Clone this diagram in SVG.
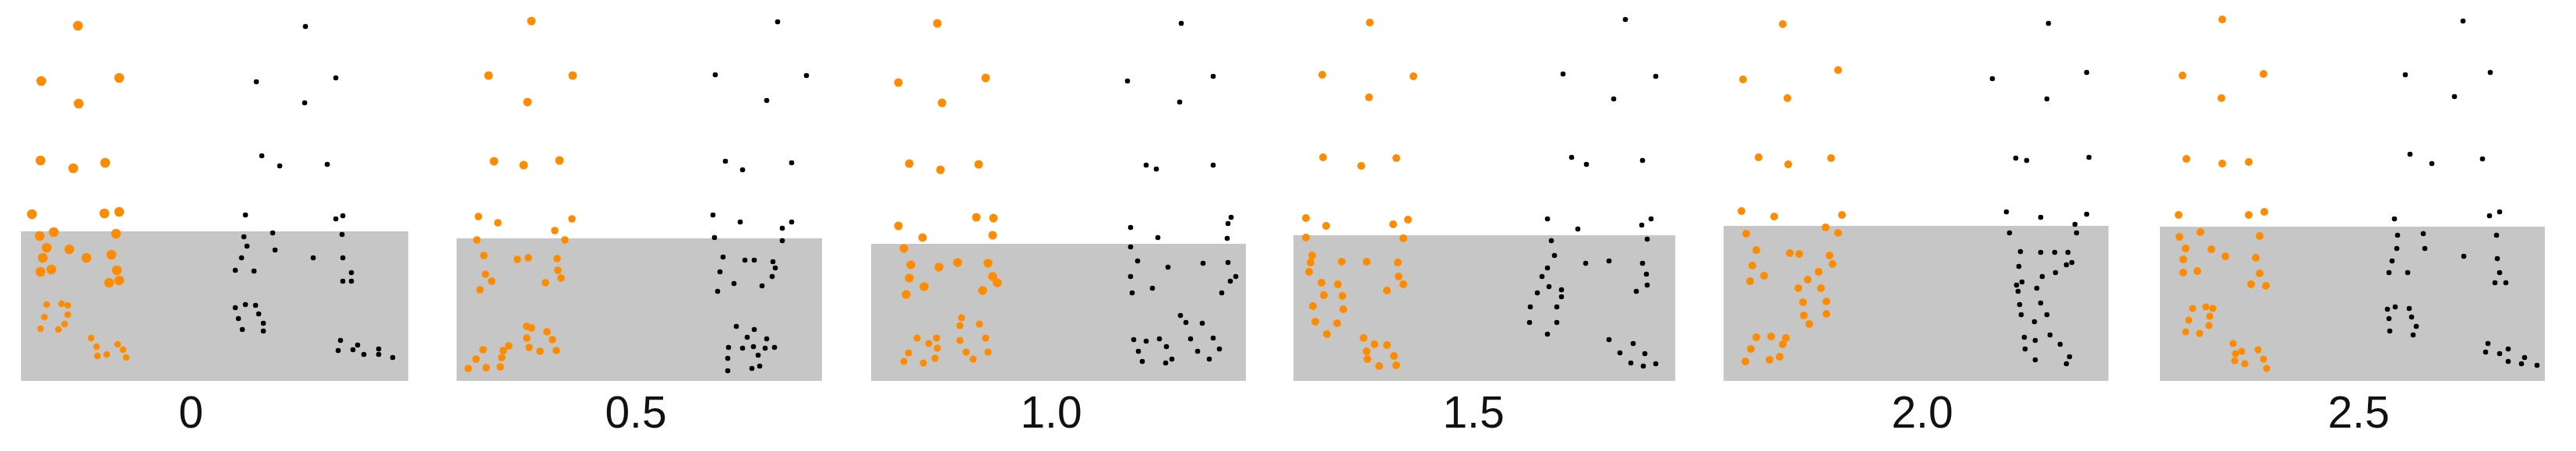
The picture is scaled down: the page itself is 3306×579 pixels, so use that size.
<svg xmlns="http://www.w3.org/2000/svg" width="3306" height="579" viewBox="0 0 3306 579">
<style>
.bg{fill:#c6c6c6}
.o{fill:#ff8c00}
.k{fill:#000}
.lbl{font-family:"Liberation Sans",Arial,sans-serif;font-size:57px;text-anchor:middle;fill:#111}
</style>
<rect x="0" y="0" width="3306" height="579" fill="#fff"/>
<g id="panel-0">
<rect class="bg" x="27" y="297" width="497" height="192"/>
<g class="o">
<circle cx="100" cy="33" r="6.3"/><circle cx="53" cy="104" r="6.3"/><circle cx="153" cy="100" r="6.3"/><circle cx="101" cy="133" r="6.3"/>
<circle cx="52" cy="206" r="6.3"/><circle cx="94" cy="216" r="6.3"/><circle cx="135" cy="209" r="6.3"/>
<circle cx="41" cy="275" r="6.3"/><circle cx="134" cy="274" r="6.3"/><circle cx="153" cy="272" r="6.3"/>
<circle cx="51" cy="303" r="6.3"/><circle cx="69" cy="298" r="6.3"/><circle cx="149" cy="300" r="6.3"/>
<circle cx="60" cy="318" r="6.3"/><circle cx="89" cy="320" r="6.3"/><circle cx="55" cy="331" r="6.3"/><circle cx="111" cy="331" r="6.3"/><circle cx="143" cy="327" r="6.3"/>
<circle cx="52" cy="349" r="6.3"/><circle cx="66" cy="346" r="6.3"/><circle cx="150" cy="347" r="6.3"/><circle cx="140" cy="363" r="6.3"/><circle cx="153" cy="360" r="6.3"/>
<circle cx="60" cy="391" r="4.3"/><circle cx="79" cy="390" r="4.3"/><circle cx="87" cy="392" r="4.3"/><circle cx="57" cy="407" r="4.3"/><circle cx="87" cy="404" r="4.3"/>
<circle cx="83" cy="416" r="4.3"/><circle cx="52" cy="422" r="4.3"/><circle cx="75" cy="423" r="4.3"/>
<circle cx="117" cy="434" r="4.3"/><circle cx="124" cy="445" r="4.3"/><circle cx="151" cy="442" r="4.3"/><circle cx="158" cy="449" r="4.3"/>
<circle cx="125" cy="457" r="4.3"/><circle cx="137" cy="455" r="4.3"/><circle cx="162" cy="459" r="4.3"/>
</g>
<g class="k">
<circle cx="392" cy="34" r="3.3"/><circle cx="329" cy="105" r="3.3"/><circle cx="431" cy="100" r="3.3"/><circle cx="391" cy="132" r="3.3"/>
<circle cx="336" cy="200" r="3.3"/><circle cx="359" cy="213" r="3.3"/><circle cx="420" cy="211" r="3.3"/>
<circle cx="315" cy="276" r="3.3"/><circle cx="431" cy="281" r="3.3"/><circle cx="440" cy="277" r="3.3"/>
<circle cx="350" cy="299" r="3.3"/><circle cx="313" cy="304" r="3.3"/><circle cx="439" cy="301" r="3.3"/>
<circle cx="317" cy="316" r="3.3"/><circle cx="353" cy="321" r="3.3"/><circle cx="310" cy="331" r="3.3"/><circle cx="402" cy="331" r="3.3"/><circle cx="440" cy="331" r="3.3"/>
<circle cx="302" cy="347" r="3.3"/><circle cx="326" cy="348" r="3.3"/><circle cx="451" cy="350" r="3.3"/><circle cx="440" cy="361" r="3.3"/><circle cx="451" cy="361" r="3.3"/>
<circle cx="302" cy="395" r="3.3"/><circle cx="315" cy="391" r="3.3"/><circle cx="328" cy="392" r="3.3"/><circle cx="332" cy="403" r="3.3"/>
<circle cx="306" cy="409" r="3.3"/><circle cx="338" cy="415" r="3.3"/><circle cx="311" cy="423" r="3.3"/><circle cx="338" cy="425" r="3.3"/>
<circle cx="437" cy="437" r="3.3"/><circle cx="459" cy="443" r="3.3"/><circle cx="434" cy="450" r="3.3"/><circle cx="453" cy="449" r="3.3"/>
<circle cx="467" cy="455" r="3.3"/><circle cx="486" cy="448" r="3.3"/><circle cx="486" cy="455" r="3.3"/><circle cx="504" cy="459" r="3.3"/>
</g>
<text class="lbl" x="245" y="549">0</text>
</g>
<g id="panel-0.5">
<rect class="bg" x="586" y="306" width="469" height="183"/>
<g class="o">
<circle cx="682" cy="27" r="5.5"/><circle cx="627" cy="97" r="5.5"/><circle cx="735" cy="97" r="5.5"/><circle cx="677" cy="131" r="5.5"/>
<circle cx="634" cy="207" r="5.5"/><circle cx="672" cy="212" r="5.5"/><circle cx="718" cy="206" r="5.5"/>
<circle cx="614" cy="278" r="4.8"/><circle cx="639" cy="286" r="4.8"/><circle cx="734" cy="281" r="4.8"/><circle cx="712" cy="296" r="4.8"/>
<circle cx="612" cy="308" r="4.8"/><circle cx="725" cy="308" r="4.8"/><circle cx="621" cy="328" r="4.8"/><circle cx="664" cy="333" r="4.8"/><circle cx="678" cy="331" r="4.8"/><circle cx="715" cy="332" r="4.8"/>
<circle cx="623" cy="352" r="4.8"/><circle cx="631" cy="361" r="4.8"/><circle cx="716" cy="347" r="4.8"/><circle cx="720" cy="357" r="4.8"/><circle cx="700" cy="363" r="4.8"/><circle cx="616" cy="372" r="4.8"/>
<circle cx="676" cy="419" r="4.8"/><circle cx="682" cy="421" r="4.8"/><circle cx="702" cy="426" r="4.8"/><circle cx="676" cy="434" r="4.8"/><circle cx="709" cy="436" r="4.8"/>
<circle cx="653" cy="444" r="4.8"/><circle cx="620" cy="449" r="4.8"/><circle cx="646" cy="450" r="4.8"/><circle cx="679" cy="446" r="4.8"/><circle cx="693" cy="451" r="4.8"/><circle cx="714" cy="450" r="4.8"/>
<circle cx="611" cy="461" r="4.8"/><circle cx="644" cy="459" r="4.8"/><circle cx="601" cy="473" r="4.8"/><circle cx="624" cy="472" r="4.8"/><circle cx="642" cy="471" r="4.8"/>
</g>
<g class="k">
<circle cx="998" cy="28" r="3.3"/><circle cx="918" cy="96" r="3.3"/><circle cx="1035" cy="97" r="3.3"/><circle cx="984" cy="129" r="3.3"/>
<circle cx="931" cy="207" r="3.3"/><circle cx="953" cy="218" r="3.3"/><circle cx="1016" cy="209" r="3.3"/>
<circle cx="915" cy="276" r="3.3"/><circle cx="950" cy="285" r="3.3"/><circle cx="1016" cy="285" r="3.3"/><circle cx="1004" cy="293" r="3.3"/>
<circle cx="917" cy="305" r="3.3"/><circle cx="1004" cy="309" r="3.3"/><circle cx="928" cy="330" r="3.3"/><circle cx="956" cy="334" r="3.3"/><circle cx="968" cy="334" r="3.3"/>
<circle cx="992" cy="336" r="3.3"/><circle cx="995" cy="344" r="3.3"/><circle cx="924" cy="349" r="3.3"/><circle cx="991" cy="355" r="3.3"/><circle cx="942" cy="364" r="3.3"/><circle cx="978" cy="367" r="3.3"/><circle cx="921" cy="374" r="3.3"/>
<circle cx="945" cy="419" r="3.3"/><circle cx="968" cy="423" r="3.3"/><circle cx="959" cy="433" r="3.3"/><circle cx="984" cy="435" r="3.3"/>
<circle cx="935" cy="446" r="3.3"/><circle cx="953" cy="447" r="3.3"/><circle cx="967" cy="445" r="3.3"/><circle cx="982" cy="447" r="3.3"/><circle cx="994" cy="446" r="3.3"/>
<circle cx="973" cy="456" r="3.3"/><circle cx="934" cy="460" r="3.3"/><circle cx="975" cy="470" r="3.3"/><circle cx="965" cy="473" r="3.3"/><circle cx="934" cy="476" r="3.3"/>
</g>
<text class="lbl" x="816" y="549">0.5</text>
</g>
<g id="panel-1.0">
<rect class="bg" x="1118" y="313" width="481" height="176"/>
<g class="o">
<circle cx="1203" cy="30" r="5.5"/><circle cx="1153" cy="106" r="5.5"/><circle cx="1265" cy="100" r="5.5"/><circle cx="1209" cy="132" r="5.5"/>
<circle cx="1167" cy="210" r="5.5"/><circle cx="1207" cy="218" r="5.5"/><circle cx="1256" cy="211" r="5.5"/>
<circle cx="1153" cy="290" r="5.5"/><circle cx="1253" cy="279" r="5.5"/><circle cx="1275" cy="280" r="5.5"/><circle cx="1184" cy="305" r="5.5"/><circle cx="1274" cy="302" r="5.5"/>
<circle cx="1160" cy="319" r="5.5"/><circle cx="1169" cy="340" r="5.8"/><circle cx="1205" cy="343" r="5.8"/><circle cx="1229" cy="337" r="5.8"/><circle cx="1268" cy="338" r="5.8"/>
<circle cx="1167" cy="357" r="5.8"/><circle cx="1274" cy="355" r="5.8"/><circle cx="1280" cy="363" r="5.8"/><circle cx="1186" cy="368" r="5.8"/><circle cx="1261" cy="373" r="5.8"/><circle cx="1163" cy="378" r="5.8"/>
<circle cx="1234" cy="408" r="4.6"/><circle cx="1232" cy="418" r="4.6"/><circle cx="1257" cy="416" r="4.6"/><circle cx="1177" cy="434" r="4.6"/><circle cx="1202" cy="434" r="4.6"/>
<circle cx="1192" cy="441" r="4.6"/><circle cx="1203" cy="447" r="4.6"/><circle cx="1232" cy="437" r="4.6"/><circle cx="1265" cy="434" r="4.6"/>
<circle cx="1166" cy="453" r="4.6"/><circle cx="1240" cy="452" r="4.6"/><circle cx="1268" cy="452" r="4.6"/><circle cx="1200" cy="460" r="4.6"/>
<circle cx="1160" cy="464" r="4.6"/><circle cx="1185" cy="466" r="4.6"/><circle cx="1249" cy="461" r="4.6"/>
</g>
<g class="k">
<circle cx="1516" cy="30" r="3.3"/><circle cx="1447" cy="104" r="3.3"/><circle cx="1557" cy="98" r="3.3"/><circle cx="1514" cy="131" r="3.3"/>
<circle cx="1471" cy="212" r="3.3"/><circle cx="1484" cy="217" r="3.3"/><circle cx="1557" cy="212" r="3.3"/>
<circle cx="1451" cy="292" r="3.3"/><circle cx="1486" cy="305" r="3.3"/><circle cx="1580" cy="279" r="3.3"/><circle cx="1576" cy="287" r="3.3"/><circle cx="1575" cy="306" r="3.3"/>
<circle cx="1451" cy="317" r="3.3"/><circle cx="1460" cy="335" r="3.3"/><circle cx="1499" cy="343" r="3.3"/><circle cx="1544" cy="338" r="3.3"/><circle cx="1576" cy="337" r="3.3"/>
<circle cx="1451" cy="355" r="3.3"/><circle cx="1586" cy="355" r="3.3"/><circle cx="1579" cy="361" r="3.3"/><circle cx="1479" cy="370" r="3.3"/><circle cx="1453" cy="376" r="3.3"/><circle cx="1568" cy="376" r="3.3"/>
<circle cx="1515" cy="405" r="3.3"/><circle cx="1522" cy="414" r="3.3"/><circle cx="1543" cy="415" r="3.3"/>
<circle cx="1455" cy="436" r="3.3"/><circle cx="1471" cy="438" r="3.3"/><circle cx="1488" cy="435" r="3.3"/><circle cx="1528" cy="435" r="3.3"/><circle cx="1557" cy="434" r="3.3"/>
<circle cx="1497" cy="445" r="3.3"/><circle cx="1461" cy="451" r="3.3"/><circle cx="1537" cy="451" r="3.3"/><circle cx="1565" cy="448" r="3.3"/>
<circle cx="1504" cy="461" r="3.3"/><circle cx="1496" cy="466" r="3.3"/><circle cx="1466" cy="464" r="3.3"/><circle cx="1552" cy="461" r="3.3"/>
</g>
<text class="lbl" x="1349" y="549">1.0</text>
</g>
<g id="panel-1.5">
<rect class="bg" x="1660" y="302" width="490" height="187"/>
<g class="o">
<circle cx="1758" cy="29" r="5"/><circle cx="1697" cy="96" r="5"/><circle cx="1814" cy="98" r="5"/><circle cx="1757" cy="125" r="5"/>
<circle cx="1698" cy="202" r="5"/><circle cx="1747" cy="213" r="5"/><circle cx="1792" cy="203" r="5"/>
<circle cx="1676" cy="280" r="5"/><circle cx="1702" cy="290" r="5"/><circle cx="1788" cy="288" r="5"/><circle cx="1807" cy="282" r="5"/>
<circle cx="1676" cy="305" r="5"/><circle cx="1801" cy="306" r="5"/><circle cx="1684" cy="328" r="5"/><circle cx="1682" cy="337" r="5"/><circle cx="1722" cy="336" r="5"/><circle cx="1754" cy="336" r="5"/><circle cx="1794" cy="337" r="5"/>
<circle cx="1680" cy="349" r="5"/><circle cx="1696" cy="363" r="5"/><circle cx="1717" cy="365" r="5"/><circle cx="1795" cy="355" r="5"/><circle cx="1801" cy="365" r="5"/><circle cx="1780" cy="373" r="5"/>
<circle cx="1699" cy="379" r="5"/><circle cx="1723" cy="380" r="5"/><circle cx="1685" cy="393" r="5"/><circle cx="1724" cy="397" r="5"/><circle cx="1688" cy="413" r="5"/><circle cx="1716" cy="415" r="5"/><circle cx="1703" cy="429" r="5"/>
<circle cx="1750" cy="434" r="5"/><circle cx="1764" cy="442" r="5"/><circle cx="1780" cy="443" r="5"/><circle cx="1754" cy="451" r="5"/><circle cx="1789" cy="457" r="5"/>
<circle cx="1755" cy="461" r="5"/><circle cx="1770" cy="470" r="5"/><circle cx="1792" cy="469" r="5"/>
</g>
<g class="k">
<circle cx="2086" cy="25" r="3.3"/><circle cx="2006" cy="95" r="3.3"/><circle cx="2125" cy="98" r="3.3"/><circle cx="2071" cy="127" r="3.3"/>
<circle cx="2017" cy="202" r="3.3"/><circle cx="2036" cy="211" r="3.3"/><circle cx="2108" cy="206" r="3.3"/>
<circle cx="1986" cy="281" r="3.3"/><circle cx="2025" cy="294" r="3.3"/><circle cx="2107" cy="289" r="3.3"/><circle cx="2119" cy="281" r="3.3"/>
<circle cx="1991" cy="309" r="3.3"/><circle cx="2114" cy="307" r="3.3"/><circle cx="1995" cy="328" r="3.3"/><circle cx="2035" cy="338" r="3.3"/><circle cx="2065" cy="335" r="3.3"/><circle cx="2108" cy="338" r="3.3"/>
<circle cx="1986" cy="344" r="3.3"/><circle cx="1979" cy="355" r="3.3"/><circle cx="2113" cy="352" r="3.3"/><circle cx="1988" cy="368" r="3.3"/><circle cx="2004" cy="372" r="3.3"/><circle cx="2114" cy="366" r="3.3"/>
<circle cx="1973" cy="376" r="3.3"/><circle cx="2004" cy="381" r="3.3"/><circle cx="2100" cy="374" r="3.3"/><circle cx="1964" cy="394" r="3.3"/><circle cx="1998" cy="394" r="3.3"/>
<circle cx="1963" cy="414" r="3.3"/><circle cx="1998" cy="414" r="3.3"/><circle cx="1986" cy="429" r="3.3"/>
<circle cx="2065" cy="436" r="3.3"/><circle cx="2096" cy="441" r="3.3"/><circle cx="2079" cy="453" r="3.3"/><circle cx="2111" cy="454" r="3.3"/>
<circle cx="2093" cy="466" r="3.3"/><circle cx="2109" cy="470" r="3.3"/><circle cx="2125" cy="467" r="3.3"/>
</g>
<text class="lbl" x="1891" y="549">1.5</text>
</g>
<g id="panel-2.0">
<rect class="bg" x="2212" y="290" width="494" height="199"/>
<g class="o">
<circle cx="2288" cy="31" r="5"/><circle cx="2237" cy="102" r="5"/><circle cx="2359" cy="90" r="5"/><circle cx="2294" cy="126" r="5"/>
<circle cx="2257" cy="202" r="5"/><circle cx="2295" cy="211" r="5"/><circle cx="2350" cy="203" r="5"/>
<circle cx="2235" cy="271" r="5"/><circle cx="2277" cy="278" r="5"/><circle cx="2364" cy="276" r="5"/><circle cx="2343" cy="292" r="5"/>
<circle cx="2241" cy="300" r="5"/><circle cx="2359" cy="299" r="5"/><circle cx="2254" cy="321" r="5"/><circle cx="2297" cy="325" r="5"/><circle cx="2309" cy="326" r="5"/><circle cx="2348" cy="328" r="5"/>
<circle cx="2249" cy="341" r="5"/><circle cx="2352" cy="339" r="5"/><circle cx="2264" cy="354" r="5"/><circle cx="2334" cy="349" r="5"/><circle cx="2246" cy="361" r="5"/><circle cx="2320" cy="359" r="5"/>
<circle cx="2308" cy="370" r="5"/><circle cx="2337" cy="370" r="5"/><circle cx="2314" cy="388" r="5"/><circle cx="2344" cy="387" r="5"/><circle cx="2315" cy="405" r="5"/><circle cx="2344" cy="403" r="5"/><circle cx="2322" cy="416" r="5"/>
<circle cx="2254" cy="433" r="5"/><circle cx="2273" cy="432" r="5"/><circle cx="2292" cy="434" r="5"/><circle cx="2288" cy="442" r="5"/><circle cx="2247" cy="448" r="5"/>
<circle cx="2284" cy="458" r="5"/><circle cx="2271" cy="462" r="5"/><circle cx="2240" cy="464" r="5"/>
</g>
<g class="k">
<circle cx="2629" cy="30" r="3.3"/><circle cx="2557" cy="101" r="3.3"/><circle cx="2678" cy="93" r="3.3"/><circle cx="2627" cy="127" r="3.3"/>
<circle cx="2587" cy="203" r="3.3"/><circle cx="2601" cy="206" r="3.3"/><circle cx="2681" cy="202" r="3.3"/>
<circle cx="2575" cy="272" r="3.3"/><circle cx="2619" cy="279" r="3.3"/><circle cx="2678" cy="275" r="3.3"/><circle cx="2663" cy="288" r="3.3"/>
<circle cx="2579" cy="299" r="3.3"/><circle cx="2665" cy="299" r="3.3"/><circle cx="2593" cy="323" r="3.3"/><circle cx="2619" cy="324" r="3.3"/><circle cx="2637" cy="324" r="3.3"/><circle cx="2654" cy="324" r="3.3"/>
<circle cx="2659" cy="337" r="3.3"/><circle cx="2652" cy="340" r="3.3"/><circle cx="2591" cy="342" r="3.3"/><circle cx="2638" cy="350" r="3.3"/><circle cx="2621" cy="355" r="3.3"/>
<circle cx="2595" cy="362" r="3.3"/><circle cx="2588" cy="366" r="3.3"/><circle cx="2590" cy="374" r="3.3"/><circle cx="2614" cy="370" r="3.3"/>
<circle cx="2592" cy="391" r="3.3"/><circle cx="2619" cy="389" r="3.3"/><circle cx="2594" cy="404" r="3.3"/><circle cx="2627" cy="404" r="3.3"/><circle cx="2611" cy="413" r="3.3"/>
<circle cx="2598" cy="433" r="3.3"/><circle cx="2612" cy="437" r="3.3"/><circle cx="2631" cy="430" r="3.3"/><circle cx="2644" cy="442" r="3.3"/><circle cx="2599" cy="448" r="3.3"/>
<circle cx="2612" cy="462" r="3.3"/><circle cx="2656" cy="458" r="3.3"/><circle cx="2652" cy="467" r="3.3"/>
</g>
<text class="lbl" x="2467" y="549">2.0</text>
</g>
<g id="panel-2.5">
<rect class="bg" x="2772" y="291" width="494" height="198"/>
<g class="o">
<circle cx="2852" cy="25" r="5"/><circle cx="2801" cy="97" r="5"/><circle cx="2905" cy="95" r="5"/><circle cx="2851" cy="126" r="5"/>
<circle cx="2806" cy="204" r="5"/><circle cx="2852" cy="210" r="5"/><circle cx="2886" cy="208" r="5"/>
<circle cx="2796" cy="276" r="5"/><circle cx="2886" cy="276" r="5"/><circle cx="2906" cy="272" r="5"/>
<circle cx="2797" cy="304" r="5"/><circle cx="2824" cy="298" r="5"/><circle cx="2900" cy="303" r="5"/><circle cx="2805" cy="319" r="5"/><circle cx="2838" cy="320" r="5"/><circle cx="2856" cy="329" r="5"/><circle cx="2895" cy="331" r="5"/>
<circle cx="2802" cy="333" r="5"/><circle cx="2802" cy="350" r="5"/><circle cx="2820" cy="348" r="5"/><circle cx="2900" cy="351" r="5"/><circle cx="2889" cy="365" r="5"/><circle cx="2908" cy="367" r="5"/>
<circle cx="2814" cy="396" r="4.6"/><circle cx="2831" cy="394" r="4.6"/><circle cx="2840" cy="396" r="4.6"/><circle cx="2836" cy="406" r="4.6"/><circle cx="2809" cy="411" r="4.6"/>
<circle cx="2835" cy="418" r="4.6"/><circle cx="2805" cy="426" r="4.6"/><circle cx="2823" cy="428" r="4.6"/>
<circle cx="2866" cy="441" r="4.6"/><circle cx="2877" cy="451" r="4.6"/><circle cx="2869" cy="454" r="4.6"/><circle cx="2898" cy="449" r="4.6"/>
<circle cx="2868" cy="463" r="4.6"/><circle cx="2905" cy="461" r="4.6"/><circle cx="2881" cy="467" r="4.6"/><circle cx="2909" cy="473" r="4.6"/>
</g>
<g class="k">
<circle cx="3161" cy="27" r="3.3"/><circle cx="3087" cy="96" r="3.3"/><circle cx="3196" cy="93" r="3.3"/><circle cx="3150" cy="124" r="3.3"/>
<circle cx="3093" cy="198" r="3.3"/><circle cx="3121" cy="210" r="3.3"/><circle cx="3186" cy="204" r="3.3"/>
<circle cx="3073" cy="281" r="3.3"/><circle cx="3077" cy="302" r="3.3"/><circle cx="3110" cy="300" r="3.3"/><circle cx="3076" cy="319" r="3.3"/><circle cx="3112" cy="319" r="3.3"/>
<circle cx="3070" cy="335" r="3.3"/><circle cx="3162" cy="329" r="3.3"/><circle cx="3066" cy="350" r="3.3"/><circle cx="3090" cy="350" r="3.3"/>
<circle cx="3195" cy="277" r="3.3"/><circle cx="3208" cy="272" r="3.3"/><circle cx="3204" cy="302" r="3.3"/><circle cx="3205" cy="332" r="3.3"/><circle cx="3208" cy="350" r="3.3"/>
<circle cx="3202" cy="363" r="3.3"/><circle cx="3216" cy="363" r="3.3"/>
<circle cx="3064" cy="397" r="3.3"/><circle cx="3074" cy="394" r="3.3"/><circle cx="3092" cy="396" r="3.3"/><circle cx="3066" cy="409" r="3.3"/><circle cx="3095" cy="407" r="3.3"/>
<circle cx="3101" cy="419" r="3.3"/><circle cx="3067" cy="425" r="3.3"/><circle cx="3097" cy="430" r="3.3"/>
<circle cx="3193" cy="441" r="3.3"/><circle cx="3190" cy="452" r="3.3"/><circle cx="3208" cy="454" r="3.3"/><circle cx="3219" cy="448" r="3.3"/>
<circle cx="3219" cy="464" r="3.3"/><circle cx="3240" cy="459" r="3.3"/><circle cx="3236" cy="467" r="3.3"/><circle cx="3256" cy="469" r="3.3"/>
</g>
<text class="lbl" x="3027" y="549">2.5</text>
</g>
</svg>
